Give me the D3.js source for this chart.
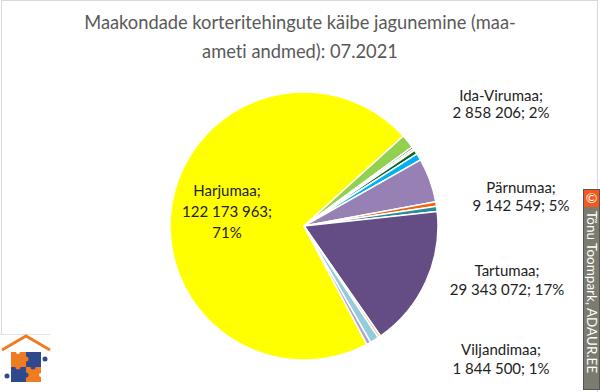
<!DOCTYPE html>
<html>
<head>
  <meta charset="utf-8" />
  <script src="https://d3js.org/d3.v7.min.js"></script>
  <style>
    body { margin: 0; background: #fff; }
    svg { display: block; font-family: Lato, "Open Sans", sans-serif; font-variant-ligatures: none; }
  </style>
</head>
<body>
<script>
// county turnover, 07.2021 (EUR), in the sheet's order
var counties = ["Harjumaa", "Ida-Virumaa", "Järvamaa", "Jõgevamaa", "Lääne-Virumaa", "Läänemaa",
  "Pärnumaa", "Raplamaa", "Saaremaa", "Tartumaa", "Valgamaa", "Viljandimaa", "Võrumaa"];
var turnover = [122173963, 2858206, 450000, 400000, 850000, 1450000,
  9142549, 950000, 1050000, 29343072, 550000, 1844500, 850000];
var colors = ["#ffff00", "#92d050", "#2f4c99", "#ffc000", "#00652e", "#00b0f0",
  "#9781b4", "#f0640f", "#2a8a9e", "#644d84", "#fac090", "#93cddd", "#b1a0c7"];
var labelled = ["Harjumaa", "Ida-Virumaa", "Pärnumaa", "Tartumaa", "Viljandimaa"];

var W = 600, H = 392;
var cx = 304, cy = 226, R = 134;

var svg = d3.select("body").append("svg")
  .attr("width", W)
  .attr("height", H);

// frame
svg.append("rect").attr("x", 1.5).attr("y", 0.5).attr("width", 596).attr("height", 400)
  .attr("fill", "#fff").attr("stroke", "#d9d9d9");

svg.append("text").attr("x", 300).attr("y", 29).attr("text-anchor", "middle")
  .attr("font-size", 18.3).attr("fill", "#595959")
  .text("Maakondade korteritehingute käibe jagunemine (maa-");
svg.append("text").attr("x", 300).attr("y", 57.5).attr("text-anchor", "middle")
  .attr("font-size", 18.3).attr("fill", "#595959")
  .text("ameti andmed): 07.2021");

var data = counties.map(function(c, i) { return {name: c, value: turnover[i], color: colors[i]}; });
var total = d3.sum(turnover);

var pie = d3.pie().sort(null).value(function(d) { return d.value; })
  .startAngle(152 * Math.PI / 180)
  .endAngle((152 + 360) * Math.PI / 180);
var arc = d3.arc().innerRadius(0).outerRadius(R);

var g = svg.append("g").attr("transform", "translate(" + cx + "," + cy + ")");
g.selectAll("path").data(pie(data)).enter().append("path")
  .attr("d", arc)
  .attr("fill", function(d) { return d.data.color; })
  .attr("stroke", "#fff")
  .attr("stroke-width", 1.5)
  .attr("stroke-linejoin", "round");

// label placement (layout only)
var labelAt = {
  "Harjumaa":    {x: 227, y: [196, 217, 238]},
  "Ida-Virumaa": {x: 501, y: [101, 118]},
  "Pärnumaa":    {x: 521, y: [193, 211]},
  "Tartumaa":    {x: 507, y: [276, 295]},
  "Viljandimaa": {x: 501, y: [355, 374]}
};

var fmt = function(v) { return d3.format(",")(v).replace(/,/g, " "); };

data.filter(function(d) { return labelled.indexOf(d.name) >= 0; }).forEach(function(d) {
  var pct = Math.round(d.value / total * 100) + "%";
  var lines = d.name === "Harjumaa"
    ? [d.name + ";", fmt(d.value) + ";", pct]
    : [d.name + ";", fmt(d.value) + "; " + pct];
  var p = labelAt[d.name];
  lines.forEach(function(t, i) {
    svg.append("text").attr("x", p.x).attr("y", p.y[i]).attr("text-anchor", "middle")
      .attr("font-size", 15).attr("fill", "#222").text(t);
  });
});

// copyright strip
var badge = svg.append("g");
badge.append("rect").attr("x", 583.5).attr("y", 189.5).attr("width", 16).attr("height", 200)
  .attr("fill", "#7b7b6f").attr("stroke", "#555");
badge.append("rect").attr("x", 584).attr("y", 190).attr("width", 15).attr("height", 17)
  .attr("fill", "#f25a1c");
badge.append("text").attr("x", 591.5).attr("y", 203).attr("text-anchor", "middle")
  .attr("font-size", 14).attr("fill", "#fff").text("©");
badge.append("text").attr("transform", "translate(587,211) rotate(90)")
  .attr("font-size", 13.5).attr("fill", "#fff").text("Tõnu Toompark, ADAUR.EE");

// logo
var logo = svg.append("g");
logo.append("rect").attr("x", 0).attr("y", 334).attr("width", 52).attr("height", 58).attr("fill", "#fff");
logo.append("line").attr("x1", 0).attr("x2", 50).attr("y1", 334.5).attr("y2", 334.5)
  .attr("stroke", "#e4e4e4");
logo.append("path").attr("d", "M2,350 L26,336 L50,350")
  .attr("fill", "none").attr("stroke", "#f07c22").attr("stroke-width", 3);
var orange = "#f07c22", blue = "#2f4a8c";
var pieces = [[11, 352, orange], [26, 352, blue], [11, 367, blue], [26, 367, orange]];
pieces.forEach(function(p) {
  logo.append("rect").attr("x", p[0]).attr("y", p[1]).attr("width", 15).attr("height", 15).attr("fill", p[2]);
});
logo.append("circle").attr("cx", 26).attr("cy", 359).attr("r", 2.5).attr("fill", orange);
logo.append("circle").attr("cx", 33).attr("cy", 367).attr("r", 2.5).attr("fill", blue);
logo.append("circle").attr("cx", 18).attr("cy", 367).attr("r", 2.5).attr("fill", orange);
logo.append("circle").attr("cx", 26).attr("cy", 375).attr("r", 2.5).attr("fill", blue);
logo.append("circle").attr("cx", 7).attr("cy", 376).attr("r", 2.5).attr("fill", blue);
logo.append("circle").attr("cx", 45).attr("cy", 359).attr("r", 2.5).attr("fill", blue);
logo.append("circle").attr("cx", 18).attr("cy", 352).attr("r", 2).attr("fill", "#fff");
logo.append("circle").attr("cx", 41).attr("cy", 375).attr("r", 2).attr("fill", "#fff");
</script>
</body>
</html>
